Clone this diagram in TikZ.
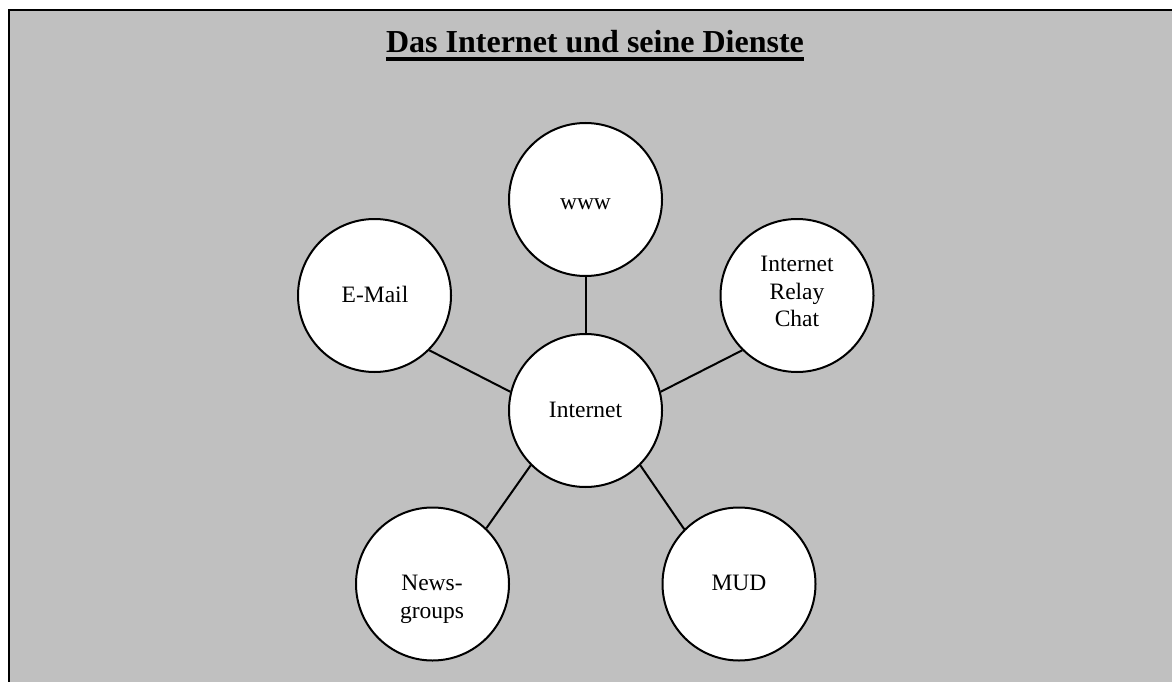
\documentclass[tikz,border=0pt]{standalone}
\usepackage{fontspec}
\setmainfont{Liberation Serif}
\definecolor{bggray}{HTML}{C0C0C0}
\begin{document}
\begin{tikzpicture}[x=1pt,y=-1pt,
  svc/.style={circle,draw=black,line width=2pt,fill=white,minimum size=153pt,inner sep=0pt},
  lbl/.style={anchor=base,inner sep=0pt,font=\fontsize{23.5}{27}\selectfont},
  conn/.style={draw=black,line width=2pt}]
\useasboundingbox (0,0) rectangle (1172,682);
\fill[white] (0,0) rectangle (1172,682);
\draw[line width=2pt,fill=bggray] (9,10) rectangle (1185,695);
% title
\node[anchor=base,inner sep=0pt,font=\fontsize{32}{36}\selectfont\bfseries] (title) at (595,53) {Das Internet und seine Dienste};
\draw[line width=3.6pt] ([yshift=-5.8pt]title.base west) -- ([yshift=-5.8pt]title.base east);
% circles
\node[svc] (www) at (585.5,199.5) {};
\node[svc] (email) at (374.5,295.5) {};
\node[svc] (irc) at (797,295.5) {};
\node[svc] (inet) at (585.5,410.5) {};
\node[svc] (news) at (432.5,584) {};
\node[svc] (mud) at (739,584) {};
% labels
\node[lbl] (twww) at (585.5,209) {www};
\node[lbl] (temail) at (375,302) {E-Mail};
\node[lbl] (tirc1) at (797,271) {Internet};
\node[lbl] (tirc2) at (797,299) {Relay};
\node[lbl] (tirc3) at (797,326) {Chat};
\node[lbl] (tinet) at (585.5,417) {Internet};
\node[lbl] (tnews1) at (432,590) {News-};
\node[lbl] (tnews2) at (432,618) {groups};
\node[lbl] (tmud) at (739,590) {MUD};
% connectors
\draw[conn] (www.270) -- (inet.90);
\draw[conn] (email.315) -- (inet.166);
\draw[conn] (irc.225) -- (inet.14);
\draw[conn] (inet.225) -- (news.46);
\draw[conn] (inet.315) -- (mud.135);
\end{tikzpicture}
\end{document}
